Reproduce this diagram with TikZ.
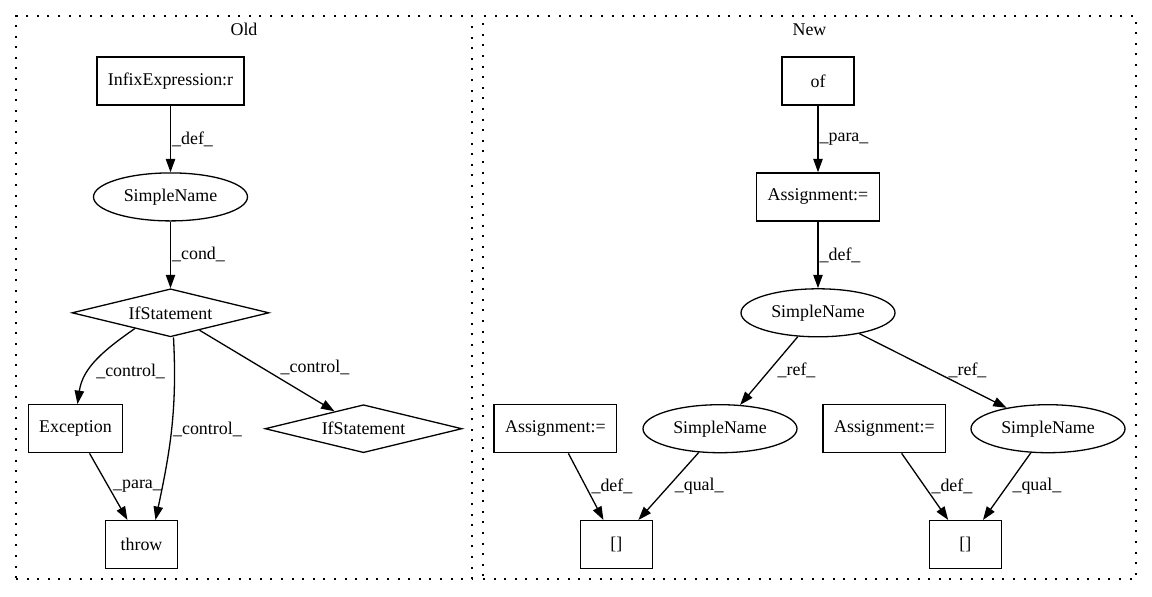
\documentclass[tikz,border=0pt]{standalone}
\usepackage{fontspec}
\setmainfont{Liberation Serif}
\usetikzlibrary{shapes.geometric,arrows.meta}
\usetikzlibrary{positioning, fit, calc}
\tikzset{block/.style={draw, rectangle, line width=0.65pt, minimum width=36pt, minimum height=24pt, inner xsep=5.5pt, inner ysep=0pt},
	line/.style={-{Triangle[length=6.7pt,width=4.7pt]}, line width=0.65pt}
}

\begin{document}
\begin{tikzpicture}[x=0.5pt, y=0.5pt, font=\fontsize{8.95}{10.7}\selectfont, node distance=33.3pt]
\tikzstyle{ellip} = [draw, ellipse, line width=0.65pt, minimum width=77pt, minimum height=24pt, inner sep=0pt]
\tikzstyle{decision} = [draw, diamond, line width=0.65pt, aspect=4, minimum width=98.5pt, minimum height=24pt, inner sep=0pt]
\tikzstyle{lbl} = [inner sep=0.5pt, anchor=west]
\tikzstyle{cluster} = [draw, dash pattern=on 1pt off 4.3pt, line width=0.65pt, inner sep=0pt]

\useasboundingbox (0,0) rectangle (1152,-596);

% Old
\node [block] (infix) at (170.5,-81) {InfixExpression:r};
\node [ellip, below=of infix] (sn1) {SimpleName};
\node [decision, below=of sn1] (if1) {IfStatement};
\node [block, below=of if1, xshift=-47.5pt] (exc) {Exception};
\node [decision, below=of if1, xshift=96.5pt] (if2) {IfStatement};
\node [block, below=of exc, xshift=33pt] (thr) {throw};
\node [cluster, fit={(16,-16) (472,-579)}] (old) {};
\node at ([yshift=-7pt]old.north) (oldtitle) {Old};

% New
\node [block] (ofcall) at (818,-81) {of};
\node [block, below=of ofcall] (asg) {Assignment:=};
\node [ellip, below=of asg] (sn2) {SimpleName};
\node [ellip, below=of sn2, xshift=-49pt] (snl) {SimpleName};
\node [ellip, below=of sn2, xshift=115pt] (snr) {SimpleName};
\node [block, left=12.5pt of snl] (asgl) {Assignment:=};
\node [block, left=12pt of snr] (asgr) {Assignment:=};
\node [block, below=of asgl, xshift=30.5pt] (arrl) {[]};
\node [block, below=of asgr, xshift=40.5pt] (arrr) {[]};
\node [cluster, fit={(483,-16) (1136,-579)}] (new) {};
\node at ([yshift=-7pt]new.north) (newtitle) {New};

%Lines
\draw [line] (infix) -- node [lbl] {\_def\_} (sn1);
\draw [line] (sn1) -- node [lbl] {\_cond\_} (if1);
\draw [line] ($(if1.west)!0.64!(if1.south)$) to [out=215, in=82] node [lbl, pos=0.65, xshift=3pt] {\_control\_} ([xshift=1pt]exc.north);
\draw [line] ([xshift=1.5pt]if1.south) to [out=-87, in=78] node [lbl] {\_control\_} ([xshift=7pt]thr.north);
\draw [line] (if1) -- node [lbl, xshift=6pt, yshift=1.5pt] {\_control\_} (if2);
\draw [line] (exc) -- node [lbl, xshift=1.5pt] {\_para\_} (thr);

\draw [line] (ofcall) -- node [lbl] {\_para\_} (asg);
\draw [line] (asg) -- node [lbl] {\_def\_} (sn2);
\draw [line] (sn2) -- node [lbl, xshift=3.5pt] {\_ref\_} (snl);
\draw [line] (sn2) -- node [lbl, xshift=7pt] {\_ref\_} (snr);
\draw [line] (asgl) -- node [lbl, xshift=2pt] {\_def\_} (arrl);
\draw [line] (snl) -- node [lbl, xshift=2.3pt] {\_qual\_} (arrl);
\draw [line] (asgr) -- node [lbl, xshift=2.5pt] {\_def\_} (arrr);
\draw [line] (snr) -- node [lbl, xshift=2pt] {\_qual\_} (arrr);
\end{tikzpicture}
\end{document}
